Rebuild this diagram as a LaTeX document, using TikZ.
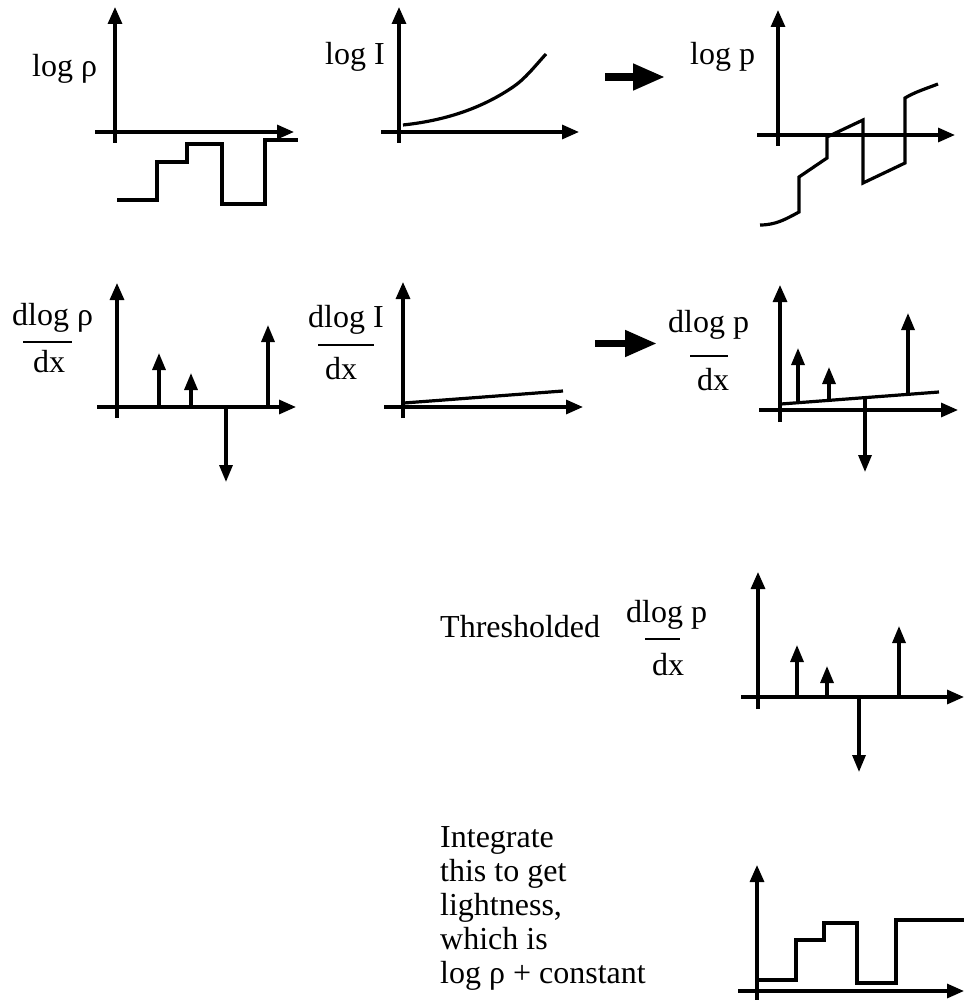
\documentclass[tikz,border=0pt]{standalone}
\usepackage{fontspec}
\setmainfont{Liberation Serif}
\usetikzlibrary{arrows.meta}
\tikzset{
  axis/.style={line width=3.2pt,-{Triangle[length=17pt,width=14pt]}},
  spike/.style={line width=3.2pt,-{Triangle[length=17pt,width=13pt]}},
  curve/.style={line width=3.2pt,line join=miter},
  bigarrow/.style={line width=7.5pt,-{Triangle[length=32pt,width=25pt]}},
  fracbar/.style={line width=2.6pt},
  lbl/.style={inner sep=0pt,anchor=base west,font=\fontsize{32}{34}\selectfont}
}
\begin{document}
\begin{tikzpicture}[x=1pt,y=-1pt]
\useasboundingbox (0,0) rectangle (963,1000);
\fill[white] (0,0) rectangle (963,1000);

% ---------- Row 1, panel 1: log rho ----------
\draw[axis] (115,143) -- (115,7);
\draw[axis] (95,132) -- (294,132);
\draw[curve] (117,200) -- (157,200) -- (157,162) -- (187,162) -- (187,144) -- (222,144) -- (222,204) -- (265,204) -- (265,140) -- (298,140);
\node[lbl] (l1) at (32,77) {log ρ};

% ---------- Row 1, panel 2: log I ----------
\draw[axis] (399,143) -- (399,7);
\draw[axis] (381,132) -- (579,132);
\draw[curve] (403,125) .. controls (450,120) and (485,106) .. (513,87) .. controls (525,79) and (535,66) .. (546,54);
\node[lbl] (l2) at (325,65) {log I};

% big arrow 1
\coordinate (a1s) at (605,77);
\coordinate (a1e) at (665,77);
\draw[bigarrow] (a1s) -- (a1e);

% ---------- Row 1, panel 3: log p ----------
\draw[axis] (778,146) -- (778,10);
\draw[axis] (757,135) -- (955,135);
\draw[curve] (760,225) .. controls (776,225) and (786,219) .. (799,212) -- (799,177) -- (827,158) -- (827,137) -- (863,120) -- (863,183) -- (905,163) -- (905,98) .. controls (915,92) and (925,89) .. (938,84);
\node[lbl] (l3) at (690,65) {log p};

% ---------- Row 2, panel 4: dlog rho / dx ----------
\draw[axis] (117,418) -- (117,283);
\draw[axis] (97,407) -- (296,407);
\draw[spike] (159,407) -- (159,353);
\draw[spike] (191,407) -- (191,373);
\draw[spike] (226,407) -- (226,482);
\draw[spike] (268,407) -- (268,325);
\node[lbl] (n4) at (12,325) {dlog ρ};
\draw[fracbar] (23,342) -- (72,342);
\node[lbl] (d4) at (33,372) {dx};

% ---------- Row 2, panel 5: dlog I / dx ----------
\draw[axis] (403,418) -- (403,282);
\draw[axis] (384,407) -- (583,407);
\draw[curve] (404,403) -- (563,391);
\node[lbl] (n5) at (308,327) {dlog I};
\draw[fracbar] (318,345) -- (374,345);
\node[lbl] (d5) at (325,379) {dx};

% big arrow 2
\coordinate (a2s) at (595,343.5);
\coordinate (a2e) at (657,343.5);
\draw[bigarrow] (a2s) -- (a2e);

% ---------- Row 2, panel 6: dlog p / dx ----------
\draw[axis] (780,422) -- (780,285);
\draw[axis] (759,410) -- (958,410);
\draw[curve] (781,404) -- (939,392);
\draw[spike] (798,402.6) -- (798,348);
\draw[spike] (829,400.3) -- (829,367);
\draw[spike] (865,397.6) -- (865,472);
\draw[spike] (908,394.3) -- (908,313);
\node[lbl] (n6) at (668,332) {dlog p};
\draw[fracbar] (690,356) -- (728,356);
\node[lbl] (d6) at (697,390) {dx};

% ---------- Row 3: thresholded ----------
\draw[axis] (758,709) -- (758,572);
\draw[axis] (741,697) -- (964,697);
\draw[spike] (797,697) -- (797,645);
\draw[spike] (827,697) -- (827,666);
\draw[spike] (859,697) -- (859,772);
\draw[spike] (899,697) -- (899,626);
\node[lbl] (th) at (440,637) {Thresholded};
\node[lbl] (n7) at (626,622) {dlog p};
\draw[fracbar] (645,639) -- (680,639);
\node[lbl] (d7) at (652,675) {dx};

% ---------- Row 4: integrate ----------
\draw[axis] (757,1003) -- (757,865);
\draw[axis] (738,991) -- (964,991);
\draw[curve] (758,980) -- (796,980) -- (796,940) -- (824,940) -- (824,923) -- (857,923) -- (857,983) -- (896,983) -- (896,920) -- (965,920);
\node[lbl] (t1) at (440,847) {Integrate};
\node[lbl] (t2) at (440,881) {this to get};
\node[lbl] (t3) at (440,915) {lightness,};
\node[lbl] (t4) at (440,949) {which is};
\node[lbl] (t5) at (440,983) {log ρ + constant};
\end{tikzpicture}
\end{document}
